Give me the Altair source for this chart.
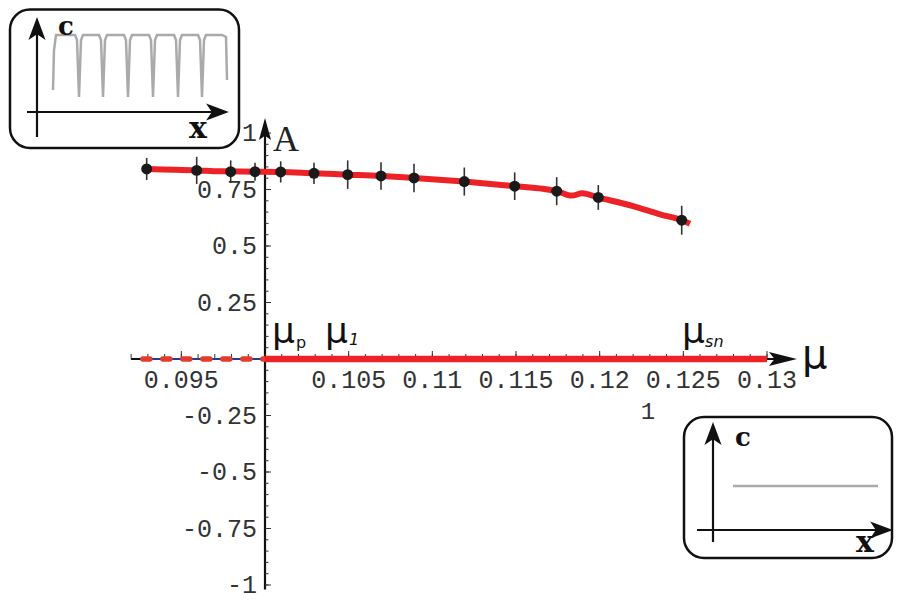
import altair as alt
import pandas as pd

# ---------------- data ----------------
curve_mu = [0.092948, 0.095936, 0.097311, 0.099402, 0.100956, 0.102928, 0.104960, 0.106932,
            0.108905, 0.111893, 0.114940, 0.116614, 0.117451, 0.118347, 0.118945, 0.119901,
            0.121993, 0.123606, 0.124921, 0.125399]
curve_A = [0.8408, 0.8346, 0.8303, 0.8289, 0.8276, 0.8215, 0.8158, 0.8101,
           0.8013, 0.7851, 0.7645, 0.7531, 0.7425, 0.7230, 0.7330, 0.7149,
           0.6768, 0.6404, 0.6140, 0.5987]

pts_mu = [0.092930, 0.095918, 0.097950, 0.099402, 0.100938, 0.102928, 0.104942,
          0.106932, 0.108905, 0.111911, 0.114922, 0.117432, 0.119919, 0.124903]
pts_A = [0.8408, 0.8346, 0.8289, 0.8289, 0.8276, 0.8215, 0.8158,
         0.8101, 0.8013, 0.7851, 0.7645, 0.7425, 0.7149, 0.6140]
pts_err = [0.049, 0.060, 0.050, 0.040, 0.047, 0.047, 0.063,
           0.061, 0.063, 0.062, 0.061, 0.062, 0.055, 0.064]

zero_solid_mu = [0.1, 0.13]
zero_dash_mu = [0.0927, 0.1]

x_label_values = [0.095, 0.105, 0.11, 0.115, 0.12, 0.125, 0.13]
x_label_texts = ["0.095", "0.105", "0.11", "0.115", "0.12", "0.125", "0.13"]
y_label_values = [1, 0.75, 0.5, 0.25, -0.25, -0.5, -0.75, -1]
y_label_texts = ["1", "0.75", "0.5", "0.25", "-0.25", "-0.5", "-0.75", "-1"]
x_major_ticks = [0.095, 0.105, 0.11, 0.115, 0.12, 0.125, 0.13]
x_minor_ticks = [round(0.092 + 0.001 * i, 3) for i in range(39)]
y_major_ticks = [1, 0.75, 0.5, 0.25, -0.25, -0.5, -0.75, -1]
y_minor_ticks = [round(-1 + 0.05 * i, 2) for i in range(41)]

bif_names = ["μ", "μ", "μ"]
bif_mu = [0.100418, 0.103586, 0.12492]
bif_subs = ["p", "1", "sn"]
bif_sub_mu = [0.101853, 0.10502, 0.12630]
bif_sub_y = [0.048, 0.0614, 0.0526]
bif_sub_style = ["normal", "italic", "italic"]

# inset waveform (inset pixel space)
wave_x = [45, 46, 48, 67, 69, 71, 73, 75, 91, 93, 95, 97, 99, 116, 118, 120, 122, 124,
          141, 143, 145, 147, 149, 166, 168, 170, 172, 174, 190, 192, 194, 196, 198, 214, 218, 219]
wave_y = [82, 42, 27, 27, 32, 89, 32, 27, 27, 32, 89, 32, 27, 27, 32, 89, 32, 27,
          27, 32, 89, 32, 27, 27, 32, 89, 32, 27, 27, 32, 89, 32, 27, 27, 29, 72]

RED = "#ec2227"
W, H = 886, 592
PX = 16733.0   # px per unit mu
PY = 226.0     # px per unit A
X0, Y0 = 257.0, 351.0
xscale = alt.Scale(domain=[0.1 - X0 / PX, 0.1 + (W - X0) / PX], nice=False, zero=False)
yscale = alt.Scale(domain=[-(H - Y0) / PY, Y0 / PY], nice=False, zero=False)

MONO = "Liberation Mono"

def X(field="x"):
    return alt.X(f"{field}:Q", scale=xscale, axis=None)

def Y(field="y"):
    return alt.Y(f"{field}:Q", scale=yscale, axis=None)

# ---------------- axes: lines, ticks, labels, arrows ----------------
axis_lines = pd.DataFrame({"x": [0.09199, 0.1], "y": [0, -1.02],
                           "x2": [0.1312, 0.1], "y2": [0, 1.02]})
axes_layer = alt.Chart(axis_lines).mark_rule(color="#111", strokeWidth=2.2).encode(
    x=X(), y=Y(), x2="x2:Q", y2="y2:Q")

xt = pd.DataFrame({"x": x_major_ticks + x_minor_ticks,
                   "len": [8 / PY] * len(x_major_ticks) + [5 / PY] * len(x_minor_ticks)})
xt["y"] = 0.0
xticks = alt.Chart(xt).mark_rule(color="#333", strokeWidth=1).encode(
    x=X(), y=Y(), y2="len:Q")

yt = pd.DataFrame({"y": y_major_ticks + y_minor_ticks,
                   "len": [6 / PX] * len(y_major_ticks) + [3.5 / PX] * len(y_minor_ticks)})
yt["x"] = 0.1
yt["x2"] = 0.1 + yt["len"]
yticks = alt.Chart(yt).mark_rule(color="#333", strokeWidth=1).encode(
    x=X(), x2="x2:Q", y=Y())

xl = pd.DataFrame({"x": x_label_values, "y": [0.0] * len(x_label_values), "t": x_label_texts})
xlabels = alt.Chart(xl).mark_text(font=MONO, fontSize=25, color="#333", align="center",
                                  baseline="top", dy=9).encode(x=X(), y=Y(), text="t:N")
yl = pd.DataFrame({"x": [0.1] * len(y_label_values), "y": y_label_values, "t": y_label_texts})
ylabels = alt.Chart(yl).mark_text(font=MONO, fontSize=25, color="#333", align="right",
                                  baseline="middle", dx=-8).encode(x=X(), y=Y(), text="t:N")

ARROW_R = "M1,0L-1,-0.5L-0.6,0L-1,0.5Z"
ARROW_U = "M0,-1L0.55,1L0,0.6L-0.55,1Z"
arr = pd.DataFrame({"x": [0.13179 - 14 / PX, 0.1], "y": [0, 1.066 - 11 / PY],
                    "s": ["r", "u"]})
arrow_r = alt.Chart(arr[arr.s == "r"]).mark_point(shape=ARROW_R, size=784, filled=True,
                                                  color="#111", opacity=1).encode(x=X(), y=Y())
arrow_u = alt.Chart(arr[arr.s == "u"]).mark_point(shape=ARROW_U, size=484, filled=True,
                                                  color="#111", opacity=1).encode(x=X(), y=Y())

# ---------------- data layers ----------------
zero_dash = pd.DataFrame({"x": zero_dash_mu, "y": [0, 0]})
blue = alt.Chart(zero_dash).mark_line(color="#2b3990", strokeWidth=2).encode(x=X(), y=Y())
reddash = alt.Chart(zero_dash).mark_line(color="#e33b2c", strokeWidth=5.5, strokeDash=[7, 13],
                                         strokeCap="round").encode(x=X(), y=Y())
zero_solid = pd.DataFrame({"x": zero_solid_mu, "y": [0, 0]})
redzero = alt.Chart(zero_solid).mark_line(color=RED, strokeWidth=6.5).encode(x=X(), y=Y())

curve = pd.DataFrame({"x": curve_mu, "y": curve_A})
redcurve = alt.Chart(curve).mark_line(color=RED, strokeWidth=6, interpolate="monotone").encode(
    x=X(), y=Y())

pts = pd.DataFrame({"x": pts_mu, "y": pts_A, "e": pts_err})
pts["lo"] = pts["y"] - pts["e"]
pts["hi"] = pts["y"] + pts["e"]
errbars = alt.Chart(pts).mark_rule(color="#333", strokeWidth=1.6).encode(
    x=X(), y=Y("lo"), y2="hi:Q")
dots = alt.Chart(pts).mark_circle(color="#1a1a1a", size=120, opacity=1).encode(x=X(), y=Y())

# ---------------- labels ----------------
bif = pd.DataFrame({"x": bif_mu, "y": [0.0702, 0.0702, 0.0702], "t": bif_names})
bif_text = alt.Chart(bif).mark_text(font="DejaVu Sans", fontSize=36, align="left",
                                    baseline="alphabetic", color="#111").encode(
    x=X(), y=Y(), text="t:N")
sub_layers = []
for sx, sy, st, ss in zip(bif_sub_mu, bif_sub_y, bif_subs, bif_sub_style):
    sub_layers.append(
        alt.Chart(pd.DataFrame({"x": [sx], "y": [sy], "t": [st]})).mark_text(
            font="DejaVu Sans", fontSize=16, fontStyle=ss, align="left",
            baseline="alphabetic", color="#111").encode(x=X(), y=Y(), text="t:N"))
mu_lab = pd.DataFrame({"x": [0.13209], "y": [-0.0395], "t": ["μ"]})
mu_text = alt.Chart(mu_lab).mark_text(font="DejaVu Sans", fontSize=40, align="left",
                                      baseline="alphabetic", color="#111").encode(
    x=X(), y=Y(), text="t:N")
A_lab = pd.DataFrame({"x": [0.10048], "y": [0.92], "t": ["A"]})
A_text = alt.Chart(A_lab).mark_text(font="Liberation Serif", fontSize=36, align="left",
                                    baseline="alphabetic", color="#222").encode(
    x=X(), y=Y(), text="t:N")
one_lab = pd.DataFrame({"x": [0.12289], "y": [-0.2675], "t": ["1"]})
one_text = alt.Chart(one_lab).mark_text(font=MONO, fontSize=24, align="center",
                                        baseline="alphabetic", color="#333").encode(
    x=X(), y=Y(), text="t:N")

# ---------------- insets ----------------
def box(x1, y1, x2, y2):
    return alt.Chart(pd.DataFrame({"a": [0]})).mark_rect(
        cornerRadius=20, fill="white", stroke="#111", strokeWidth=2.5).encode(
        x=alt.value(x1), x2=alt.value(x2), y=alt.value(y1), y2=alt.value(y2))

def hline(x1, x2, y, color="#111", w=2.2):
    return alt.Chart(pd.DataFrame({"a": [0]})).mark_rule(color=color, strokeWidth=w).encode(
        x=alt.value(x1), x2=alt.value(x2), y=alt.value(y))

def vline(x, y1, y2, color="#111", w=2.2):
    return alt.Chart(pd.DataFrame({"a": [0]})).mark_rule(color=color, strokeWidth=w).encode(
        x=alt.value(x), y=alt.value(y1), y2=alt.value(y2))

IA_R = "M1,0L-1,-0.75L-0.5,0L-1,0.75Z"
IA_U = "M0,-1L0.75,1L0,0.5L-0.75,1Z"

def head(x, y, shape):
    return alt.Chart(pd.DataFrame({"a": [0]})).mark_point(
        shape=shape, size=520, filled=True, color="#111", opacity=1).encode(
        x=alt.value(x), y=alt.value(y))

def letter(x, y, t, size):
    return alt.Chart(pd.DataFrame({"a": [0]})).mark_text(
        text=t, font="DejaVu Serif", fontWeight="bold", fontSize=size, color="#111",
        align="center", baseline="middle").encode(x=alt.value(x), y=alt.value(y))

wave = pd.DataFrame({"px": wave_x, "py": wave_y, "i": list(range(len(wave_x)))})
wave_line = alt.Chart(wave).mark_line(color="#aaaaaa", strokeWidth=2.5).encode(
    x=alt.X("px:Q", scale=None, axis=None), y=alt.Y("py:Q", scale=None, axis=None),
    order="i:Q")

inset1 = [box(2, 1.5, 231, 140), vline(29, 129, 20), hline(19, 210, 104),
          head(29, 20.5, IA_U), head(209.5, 104, IA_R), wave_line,
          letter(58, 19, "c", 26), letter(190, 121, "x", 30)]
inset2 = [box(676, 409, 884, 550), vline(705, 534, 425), hline(689, 875, 522),
          head(705, 425.5, IA_U), head(873.5, 522, IA_R),
          hline(725, 870, 478, color="#aaaaaa", w=2.5),
          letter(735, 430, "c", 26), letter(857, 535, "x", 30)]

chart = alt.layer(
    axes_layer, xticks, yticks, xlabels, ylabels, arrow_r, arrow_u,
    blue, reddash, redzero, redcurve, errbars, dots,
    bif_text, *sub_layers, mu_text, A_text, one_text,
    *inset1, *inset2,
).properties(
    width=W, height=H, autosize="none",
    padding={"left": 0, "top": 0, "right": 0, "bottom": 0},
).configure_view(stroke=None)

chart.save("out.html", embed_options={"renderer": "svg", "actions": False})
